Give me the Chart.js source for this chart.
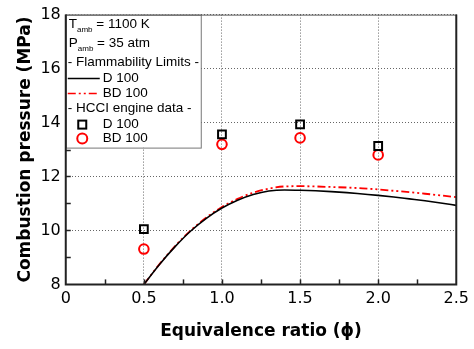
<!DOCTYPE html>
<html>
<head>
<meta charset="utf-8">
<script src="https://cdn.jsdelivr.net/npm/chart.js@4.4.1/dist/chart.umd.min.js"></script>
<style>
  html, body { margin: 0; padding: 0; background: #fff; }
  #wrap { width: 474px; height: 349px; }
</style>
</head>
<body>
<div id="wrap"><canvas id="chart" width="474" height="349"></canvas></div>
<script>
// flammability limit curves (phi vs pressure, MPa)
const phiLimits = [0.5, 0.6, 0.7, 0.8, 0.9, 1.0, 1.1, 1.2, 1.3, 1.4, 1.5, 1.6, 1.7, 1.8, 1.9, 2.0, 2.1, 2.2, 2.3, 2.4, 2.5]
const d100Limit = [8.0, 8.74, 9.4, 9.98, 10.45, 10.83, 11.12, 11.33, 11.46, 11.5, 11.49, 11.47, 11.44, 11.4, 11.35, 11.3, 11.24, 11.17, 11.1, 11.02, 10.93]
const bd100Limit = [8.0, 8.75, 9.42, 10.0, 10.48, 10.87, 11.17, 11.4, 11.55, 11.63, 11.64, 11.63, 11.61, 11.59, 11.56, 11.52, 11.47, 11.42, 11.36, 11.3, 11.23]

// HCCI engine data
const phiEngine = [0.5, 1.0, 1.5, 2.0]
const d100Engine = [10.05, 13.56, 13.93, 13.13]
const bd100Engine = [9.31, 13.19, 13.43, 12.8]

const xTicks = [0, 0.5, 1.0, 1.5, 2.0, 2.5]
const yTicks = [8, 10, 12, 14, 16, 18]

const toPoints = (xs, ys) => xs.map((x, i) => ({ x: x, y: ys[i] }))

const redDash = [8, 3, 2, 3, 2, 3]

// inward ticks, legend box and frame
const decorations = {
  id: 'decorations',
  afterDatasetsDraw(chart) {
    const { ctx, chartArea: a, scales: { x, y } } = chart
    ctx.save()
    ctx.strokeStyle = '#222'
    ctx.lineWidth = 1.5
    for (let v = 0.25; v < 2.5; v += 0.25) {
      const px = Math.round(x.getPixelForValue(v)) + 0.5
      ctx.beginPath()
      ctx.moveTo(px, a.bottom)
      ctx.lineTo(px, a.bottom - 5)
      ctx.stroke()
    }
    for (let v = 9; v < 18; v += 1) {
      const py = Math.round(y.getPixelForValue(v)) + 0.5
      ctx.beginPath()
      ctx.moveTo(a.left, py)
      ctx.lineTo(a.left + 5, py)
      ctx.stroke()
    }

    // legend
    const lx = a.left, ly = a.top, lw = 135, lh = 133
    ctx.fillStyle = '#fff'
    ctx.fillRect(lx, ly, lw, lh)
    ctx.strokeStyle = '#777'
    ctx.lineWidth = 1
    ctx.strokeRect(lx + 0.5, ly + 0.5, lw, lh)

    ctx.fillStyle = '#000'
    ctx.textBaseline = 'middle'
    ctx.textAlign = 'left'
    const big = '13.5px "Liberation Sans", Arial, sans-serif'
    const small = '8px "Liberation Sans", Arial, sans-serif'
    const sub = (base, s, rest, yy) => {
      let cx = lx + 3
      ctx.font = big
      ctx.fillText(base, cx, yy)
      cx += ctx.measureText(base).width
      ctx.font = small
      ctx.fillText(s, cx, yy + 5)
      cx += ctx.measureText(s).width
      ctx.font = big
      ctx.fillText(rest, cx, yy)
    }
    sub('T', 'amb', ' = 1100 K', ly + 10)
    sub('P', 'amb', ' = 35 atm', ly + 29)
    ctx.font = big
    ctx.fillText('- Flammability Limits -', lx + 2, ly + 48)
    ctx.fillText('D 100', lx + 37, ly + 64)
    ctx.fillText('BD 100', lx + 37, ly + 79)
    ctx.fillText('- HCCI engine data -', lx + 2, ly + 94)
    ctx.fillText('D 100', lx + 37, ly + 110)
    ctx.fillText('BD 100', lx + 37, ly + 124)

    ctx.lineWidth = 1.5
    ctx.strokeStyle = '#000'
    ctx.beginPath()
    ctx.moveTo(lx + 2, ly + 64)
    ctx.lineTo(lx + 34, ly + 64)
    ctx.stroke()
    ctx.strokeStyle = '#ff0000'
    ctx.setLineDash(redDash)
    ctx.beginPath()
    ctx.moveTo(lx + 2, ly + 79)
    ctx.lineTo(lx + 34, ly + 79)
    ctx.stroke()
    ctx.setLineDash([])

    ctx.lineWidth = 2
    ctx.strokeStyle = '#000'
    ctx.strokeRect(lx + 12.5, ly + 106, 8, 8)
    ctx.strokeStyle = '#ff0000'
    ctx.beginPath()
    ctx.arc(lx + 16.5, ly + 124, 5, 0, Math.PI * 2)
    ctx.stroke()

    // frame
    ctx.strokeStyle = '#555'
    ctx.lineWidth = 1
    ctx.beginPath()
    ctx.moveTo(a.left, a.top + 0.5)
    ctx.lineTo(a.right, a.top + 0.5)
    ctx.stroke()
    ctx.strokeStyle = '#222'
    ctx.lineWidth = 2
    ctx.beginPath()
    ctx.moveTo(a.left, a.top)
    ctx.lineTo(a.left, a.bottom)
    ctx.lineTo(a.right, a.bottom)
    ctx.lineTo(a.right, a.top)
    ctx.stroke()
    ctx.restore()
  }
}

new Chart(document.getElementById('chart'), {
  type: 'scatter',
  data: {
    datasets: [
      {
        label: 'D 100 limit',
        data: toPoints(phiLimits, d100Limit),
        showLine: true,
        borderColor: '#000',
        borderWidth: 1.6,
        pointRadius: 0,
        cubicInterpolationMode: 'monotone'
      },
      {
        label: 'BD 100 limit',
        data: toPoints(phiLimits, bd100Limit),
        showLine: true,
        borderColor: '#ff0000',
        borderWidth: 1.8,
        borderDash: redDash,
        pointRadius: 0,
        cubicInterpolationMode: 'monotone'
      },
      {
        label: 'D 100',
        data: toPoints(phiEngine, d100Engine),
        pointStyle: 'rect',
        pointRadius: 5.5,
        pointBorderWidth: 2,
        pointBorderColor: '#000',
        pointBackgroundColor: 'rgba(255,255,255,0)'
      },
      {
        label: 'BD 100',
        data: toPoints(phiEngine, bd100Engine),
        pointStyle: 'circle',
        pointRadius: 4.8,
        pointBorderWidth: 2,
        pointBorderColor: '#ff0000',
        pointBackgroundColor: 'rgba(255,255,255,0)'
      }
    ]
  },
  options: {
    responsive: false,
    animation: false,
    layout: {
      padding: { left: 15, top: 14, right: 17, bottom: 7 }
    },
    scales: {
      x: {
        type: 'linear',
        min: 0,
        max: 2.5,
        afterBuildTicks: (axis) => { axis.ticks = xTicks.map(v => ({ value: v })) },
        ticks: {
          color: '#000',
          font: { family: '"DejaVu Sans"', size: 16 },
          padding: 5,
          maxRotation: 0,
          callback: (v) => v === 0 ? '0' : v.toFixed(1)
        },
        grid: { color: '#666', lineWidth: 1, drawTicks: false },
        border: { display: false, dash: [1, 2] },
        title: {
          display: true,
          text: 'Equivalence ratio (\u03d5)',
          color: '#000',
          font: { family: '"DejaVu Sans"', size: 17, weight: 'bold' },
          padding: { top: 8, bottom: 0 }
        }
      },
      y: {
        min: 8,
        max: 18,
        afterBuildTicks: (axis) => { axis.ticks = yTicks.map(v => ({ value: v })) },
        ticks: {
          color: '#000',
          font: { family: '"DejaVu Sans"', size: 16 },
          padding: 5
        },
        grid: { color: '#666', lineWidth: 1, drawTicks: false },
        border: { display: false, dash: [1, 2] },
        title: {
          display: true,
          text: 'Combustion pressure (MPa)',
          color: '#000',
          font: { family: '"DejaVu Sans"', size: 17, weight: 'bold' },
          padding: { top: 0, bottom: 0 }
        }
      }
    },
    plugins: {
      legend: { display: false },
      tooltip: { enabled: false }
    }
  },
  plugins: [decorations]
})
</script>
</body>
</html>
